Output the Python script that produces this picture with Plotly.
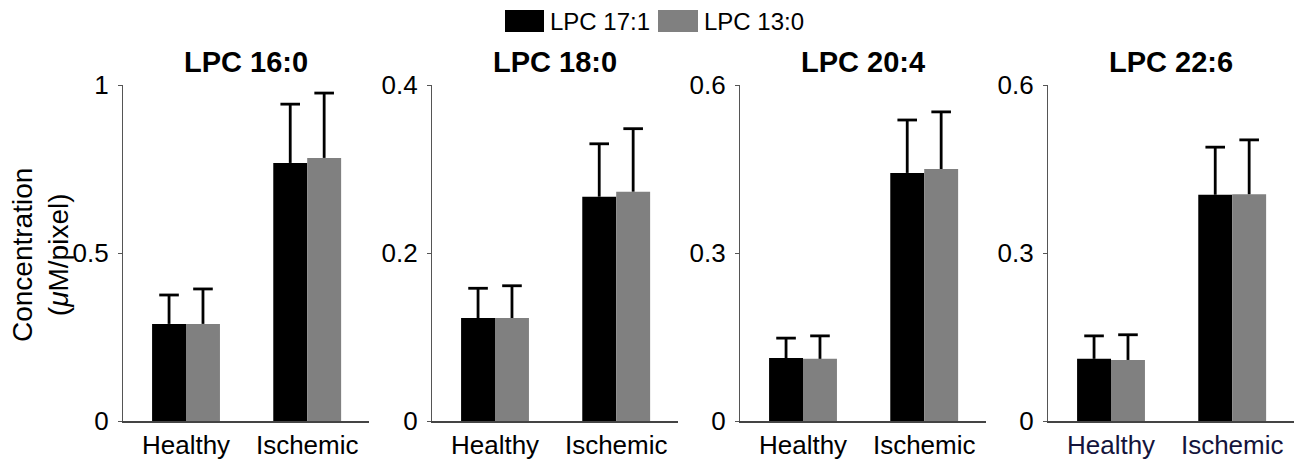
import plotly.graph_objects as go

categories = ["Healthy", "Ischemic"]
panel_titles = ["LPC 16:0", "LPC 18:0", "LPC 20:4", "LPC 22:6"]
series_names = ["LPC 17:1", "LPC 13:0"]

# mean values per panel [Healthy, Ischemic]
lpc171_values = [[0.289, 0.768], [0.1226, 0.267], [0.1125, 0.443], [0.111, 0.404]]
lpc130_values = [[0.289, 0.783], [0.1226, 0.273], [0.111, 0.450], [0.109, 0.405]]
# upper error (SE)
lpc171_errors = [[0.086, 0.175], [0.0354, 0.063], [0.0355, 0.0945], [0.041, 0.085]]
lpc130_errors = [[0.104, 0.193], [0.0384, 0.075], [0.041, 0.102], [0.045, 0.097]]

y_max = [1.0, 0.4, 0.6, 0.6]
y_tickvals = [[0, 0.5, 1.0], [0, 0.2, 0.4], [0, 0.3, 0.6], [0, 0.3, 0.6]]
y_ticktext = [["0", "0.5", "1"], ["0", "0.2", "0.4"], ["0", "0.3", "0.6"], ["0", "0.3", "0.6"]]

colors = ["#000000", "#808080"]
FONT = "Liberation Sans, Arial, sans-serif"

# page is 1306x463; the plot div sits 8px in from the page's top-left corner
OFF = 8
W, H = 1306 - OFF, 463 - OFF


def fx(px):
    return (px - OFF) / W


def fy(py):
    return 1 - (py - OFF) / H


x_px = [(123, 369), (432, 678), (740, 986), (1048, 1294)]
y_dom = [fy(421), fy(85)]
GAP = 0.44

fig = go.Figure()
layout = dict(
    width=W, height=H, autosize=False,
    margin=dict(l=0, r=0, t=0, b=0, pad=0, autoexpand=False),
    paper_bgcolor="white", plot_bgcolor="white",
    barmode="group", bargap=GAP, bargroupgap=0,
    scattermode="group", scattergap=GAP,
    showlegend=False, font=dict(family=FONT, color="black"),
)
annotations = []
shapes = []

for i in range(4):
    xa = "x" if i == 0 else f"x{i+1}"
    ya = "y" if i == 0 else f"y{i+1}"
    for s, (vals, errs) in enumerate([(lpc171_values, lpc171_errors), (lpc130_values, lpc130_errors)]):
        fig.add_trace(go.Bar(
            x=categories, y=vals[i], name=series_names[s],
            marker=dict(color=colors[s], line=dict(width=0)),
            error_y=dict(type="data", array=errs[i], arrayminus=[0, 0], symmetric=False,
                         color="black", thickness=2.8, width=0),
            xaxis=xa, yaxis=ya, offsetgroup=str(s), alignmentgroup=f"g{i}",
        ))
    for s, (vals, errs) in enumerate([(lpc171_values, lpc171_errors), (lpc130_values, lpc130_errors)]):
        tops = [v + e for v, e in zip(vals[i], errs[i])]
        fig.add_trace(go.Scatter(
            x=categories, y=tops, mode="markers", name=series_names[s],
            marker=dict(symbol="line-ew", size=14, line=dict(width=2.8, color="black")),
            xaxis=xa, yaxis=ya, offsetgroup=str(s), alignmentgroup=f"g{i}",
            cliponaxis=False, hoverinfo="skip",
        ))
    tick_color = "#14143c" if i == 3 else "black"
    layout["xaxis" if i == 0 else f"xaxis{i+1}"] = dict(
        domain=[fx(x_px[i][0]), fx(x_px[i][1])], anchor=ya, automargin=False,
        range=[-0.52, 1.51], showline=True, linecolor="#444444", linewidth=1.5,
        showgrid=False, zeroline=False, ticks="",
        tickfont=dict(size=26, family=FONT, color=tick_color),
    )
    layout["yaxis" if i == 0 else f"yaxis{i+1}"] = dict(
        domain=y_dom, anchor=xa, range=[0, y_max[i]], automargin=False,
        tickvals=y_tickvals[i], ticktext=y_ticktext[i],
        showline=True, linecolor="#555555", linewidth=1.2,
        showgrid=False, zeroline=False,
        ticks="outside", ticklen=4, tickwidth=1, tickcolor="#555555", ticklabelstandoff=4,
        tickfont=dict(size=26, family=FONT, color="black"),
    )
    annotations.append(dict(
        text=f"<b>{panel_titles[i]}</b>", xref="paper", yref="paper",
        x=fx((x_px[i][0] + x_px[i][1]) / 2), y=fy(62),
        xanchor="center", yanchor="middle", showarrow=False,
        font=dict(size=29, family=FONT, color="black"),
    ))

# y-axis title
annotations.append(dict(
    text="Concentration<br>(<i>μ</i>M/pixel)", xref="paper", yref="paper",
    x=fx(41), y=fy(255), xanchor="center", yanchor="middle",
    textangle=-90, showarrow=False, font=dict(size=28, family=FONT, color="black"),
))

# legend (manual swatches)
legend_items = [(505, 544, 548), (658, 698, 702)]
for s, (x0, x1, tx) in enumerate(legend_items):
    shapes.append(dict(type="rect", xref="paper", yref="paper",
                       x0=fx(x0), x1=fx(x1), y0=fy(32), y1=fy(10),
                       fillcolor=colors[s], line=dict(width=0)))
    annotations.append(dict(
        text=series_names[s], xref="paper", yref="paper",
        x=fx(tx), y=fy(21), xanchor="left", yanchor="middle",
        showarrow=False, font=dict(size=24, family=FONT, color="black"),
    ))

layout["annotations"] = annotations
layout["shapes"] = shapes
fig.update_layout(**layout)
fig.write_html("out.html", config={"responsive": False, "displayModeBar": False})
